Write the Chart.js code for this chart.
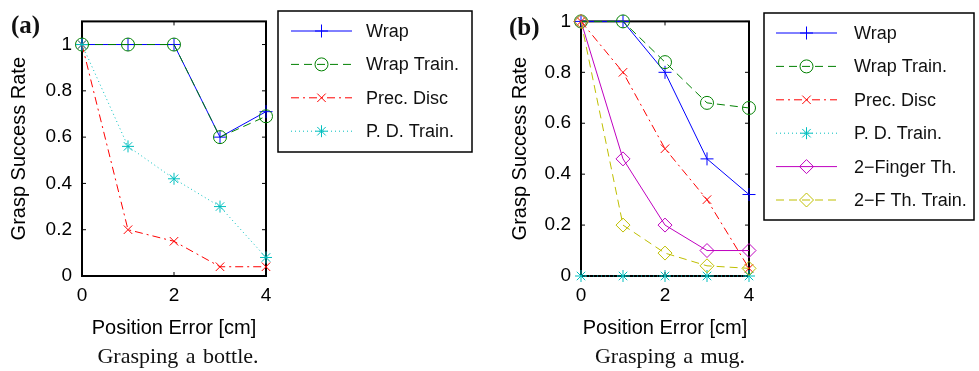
<!DOCTYPE html>
<html>
<head>
<meta charset="utf-8">
<script src="https://cdn.jsdelivr.net/npm/chart.js@4.4.1/dist/chart.umd.min.js"></script>
<style>
  body { margin: 0; background: #fff; width: 979px; height: 371px; position: relative; overflow: hidden; }
  .box { position: absolute; top: 0; height: 371px; }
  .tag { position: absolute; font-family: 'Liberation Serif', serif; font-weight: bold; font-size: 25px; line-height: 25px; color: #111; }
  .caption { position: absolute; font-family: 'Liberation Serif', serif; font-size: 22px; line-height: 24px; text-align: center; color: #111; word-spacing: 2px; }
</style>
</head>
<body>
<div class="box" style="left:0;width:490px"><canvas id="bottleChart"></canvas></div>
<div class="box" style="left:490px;width:489px"><canvas id="mugChart"></canvas></div>
<div class="tag" style="left:11px;top:12px">(a)</div>
<div class="tag" style="left:509px;top:14px">(b)</div>
<div class="caption" style="left:78px;width:200px;top:344px">Grasping a bottle.</div>
<div class="caption" style="left:570px;width:200px;top:344px">Grasping a mug.</div>
<script>
// data
const positionError = [0, 1, 2, 3, 4];
const xTickValues = [0, 2, 4];
const xTickLabels = ['0', '2', '4'];
const yTickValues = [0, 0.2, 0.4, 0.6, 0.8, 1];
const yTickLabels = ['0', '0.2', '0.4', '0.6', '0.8', '1'];

const bottleNames = ['Wrap', 'Wrap Train.', 'Prec. Disc', 'P. D. Train.'];
const bottleWrap = [1, 1, 1, 0.6, 0.71];
const bottleWrapTrain = [1, 1, 1, 0.6, 0.69];
const bottlePrecDisc = [1, 0.2, 0.15, 0.04, 0.04];
const bottlePDTrain = [1, 0.56, 0.42, 0.3, 0.08];

const mugNames = ['Wrap', 'Wrap Train.', 'Prec. Disc', 'P. D. Train.', '2\u2212Finger Th.', '2\u2212F Th. Train.'];
const mugWrap = [1, 1, 0.8, 0.46, 0.32];
const mugWrapTrain = [1, 1, 0.84, 0.68, 0.66];
const mugPrecDisc = [1, 0.8, 0.5, 0.3, 0.03];
const mugPDTrain = [0, 0, 0, 0, 0];
const mugFinger = [1, 0.46, 0.2, 0.1, 0.1];
const mugFingerTrain = [1, 0.2, 0.09, 0.04, 0.03];

// matlab-ish line styles
const styles = [
  { color: '#0000ff', dash: [], point: 'cross', r: 6.5 },
  { color: '#008000', dash: [8, 5], point: 'circle', r: 6.5 },
  { color: '#ff0000', dash: [8, 4, 2, 4], point: 'crossRot', r: 6 },
  { color: '#00bfbf', dash: [1, 3], point: 'star', r: 6 },
  { color: '#bf00bf', dash: [], point: 'rectRot', r: 7 },
  { color: '#bfbf00', dash: [8, 5], point: 'rectRot', r: 7 }
];

const sans = "'Liberation Sans', Arial, sans-serif";

let frameTicks = {
  id: 'frameTicks',
  beforeDatasetsDraw(chart) {
    const ctx = chart.ctx;
    const a = chart.chartArea;
    const xs = chart.scales.x, ys = chart.scales.y;
    ctx.save();
    ctx.strokeStyle = '#000';
    ctx.lineWidth = 1;
    ctx.beginPath();
    xTickValues.forEach(v => {
      const px = xs.getPixelForValue(v);
      ctx.moveTo(px, a.bottom); ctx.lineTo(px, a.bottom - 4);
      ctx.moveTo(px, a.top); ctx.lineTo(px, a.top + 4);
    });
    yTickValues.forEach(v => {
      const py = ys.getPixelForValue(v);
      ctx.moveTo(a.left, py); ctx.lineTo(a.left + 4, py);
      ctx.moveTo(a.right, py); ctx.lineTo(a.right - 4, py);
    });
    ctx.stroke();
    ctx.lineWidth = 2;
    ctx.strokeRect(a.left, a.top, a.right - a.left, a.bottom - a.top);
    ctx.restore();
  }
};

let boxLegend = {
  id: 'boxLegend',
  afterDraw(chart, args, opts) {
    const ctx = chart.ctx;
    ctx.save();
    ctx.strokeStyle = '#000';
    ctx.lineWidth = 1.5;
    ctx.strokeRect(opts.left, opts.top, opts.width, opts.height);
    chart.data.datasets.forEach((ds, i) => {
      const y = opts.top + 20 + i * 33.4;
      ctx.strokeStyle = ds.borderColor;
      ctx.lineWidth = 1;
      ctx.setLineDash(ds.borderDash);
      ctx.beginPath();
      ctx.moveTo(opts.lineStart, y);
      ctx.lineTo(opts.lineEnd, y);
      ctx.stroke();
      ctx.setLineDash([]);
      ctx.fillStyle = 'rgba(0,0,0,0)';
      Chart.helpers.drawPoint(ctx, {
        pointStyle: ds.pointStyle, radius: ds.pointRadius, rotation: 0, borderWidth: 1
      }, (opts.lineStart + opts.lineEnd) / 2, y);
      ctx.fillStyle = '#111';
      ctx.font = '18px ' + sans;
      ctx.textAlign = 'left';
      ctx.textBaseline = 'middle';
      ctx.fillText(ds.label, opts.textX, y + 1);
    });
    ctx.restore();
  }
};

function makeChart(id, names, series, yMax, lay) {
  const datasets = series.map((vals, i) => ({
    label: names[i],
    data: positionError.map((x, k) => ({ x: x, y: vals[k] })),
    borderColor: styles[i].color,
    borderWidth: 1,
    borderDash: styles[i].dash,
    pointStyle: styles[i].point,
    pointRadius: styles[i].r,
    pointBorderColor: styles[i].color,
    pointBackgroundColor: 'rgba(0,0,0,0)',
    pointBorderWidth: 1,
    tension: 0,
    clip: false,
    order: series.length - i
  }));
  return new Chart(document.getElementById(id), {
    type: 'line',
    data: { datasets: datasets },
    options: {
      responsive: true,
      maintainAspectRatio: false,
      animation: false,
      events: [],
      layout: { padding: { left: 0, top: lay.top, right: lay.right, bottom: 31 } },
      plugins: {
        legend: { display: false },
        tooltip: { enabled: false },
        boxLegend: lay.legend
      },
      scales: {
        x: {
          type: 'linear', min: 0, max: 4,
          grid: { display: false, drawTicks: false },
          border: { display: false },
          afterBuildTicks: s => { s.ticks = xTickValues.map(v => ({ value: v })); },
          afterFit: s => { s.height = 64; },
          ticks: { color: '#000', padding: 8, font: { family: sans, size: 19 },
                   callback: (v, i) => xTickLabels[i] },
          title: { display: true, text: 'Position Error [cm]', color: '#000',
                   font: { family: sans, size: 20 }, padding: 0 }
        },
        y: {
          type: 'linear', min: 0, max: yMax,
          grid: { display: false, drawTicks: false },
          border: { display: false },
          afterBuildTicks: s => { s.ticks = yTickValues.map(v => ({ value: v })); },
          afterFit: s => { s.width = lay.yWidth; },
          ticks: { color: '#000', padding: 10, font: { family: sans, size: 19 },
                   callback: (v, i) => yTickLabels[i] },
          title: { display: true, text: 'Grasp Success Rate', color: '#000',
                   font: { family: sans, size: 20 }, padding: { top: lay.titlePad, bottom: 0 } }
        }
      }
    },
    plugins: [frameTicks, boxLegend]
  });
}

makeChart('bottleChart', bottleNames,
  [bottleWrap, bottleWrapTrain, bottlePrecDisc, bottlePDTrain], 1.1,
  { top: 13, right: 224, yWidth: 82, titlePad: 7,
    legend: { left: 278, top: 11, width: 194, height: 141, lineStart: 291, lineEnd: 352, textX: 366 } });

makeChart('mugChart', mugNames,
  [mugWrap, mugWrapTrain, mugPrecDisc, mugPDTrain, mugFinger, mugFingerTrain], 1,
  { top: 12, right: 230, yWidth: 91, titlePad: 18,
    legend: { left: 274, top: 13, width: 210, height: 207, lineStart: 286, lineEnd: 347, textX: 364 } });
</script>
</body>
</html>
